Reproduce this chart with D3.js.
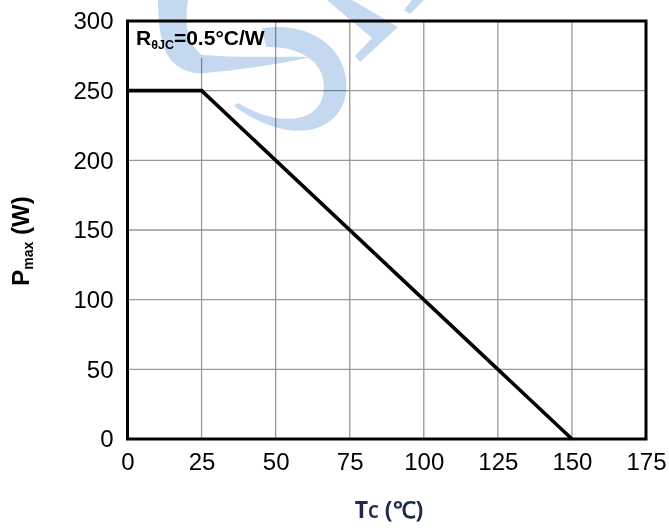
<!DOCTYPE html>
<html>
<head>
<meta charset="utf-8">
<script src="https://cdn.jsdelivr.net/npm/d3@7"></script>
<style>
  body { margin: 0; background: #fff; }
  svg { display: block; }
</style>
</head>
<body>
<div id="chart"></div>
<script>
// derating curve: power vs case temperature
const tempC = [0, 25, 150];
const powerW = [250, 250, 0];
const xTicks = [0, 25, 50, 75, 100, 125, 150, 175];
const yTicks = [0, 50, 100, 150, 200, 250, 300];

const width = 669, height = 528;
const margin = { left: 127.5, top: 21, right: 23, bottom: 89 };

const svg = d3.select("#chart").append("svg")
  .attr("width", width)
  .attr("height", height);

svg.append("rect").attr("width", width).attr("height", height).attr("fill", "#fff");

const x = d3.scaleLinear().domain([0, 175]).range([margin.left, width - margin.right]);
const y = d3.scaleLinear().domain([0, 300]).range([height - margin.bottom, margin.top]);

// grid
const grid = svg.append("g").attr("stroke", "#999").attr("stroke-width", 1.3);
grid.selectAll(".gx").data(xTicks).join("line")
  .attr("x1", d => x(d)).attr("x2", d => x(d))
  .attr("y1", y(0)).attr("y2", y(300));
grid.selectAll(".gy").data(yTicks).join("line")
  .attr("y1", d => y(d)).attr("y2", d => y(d))
  .attr("x1", x(0)).attr("x2", x(175));

// white box behind the annotation hides the grid there
svg.append("rect")
  .attr("x", x(0) + 1).attr("y", y(300) + 1)
  .attr("width", 143).attr("height", 36)
  .attr("fill", "#fff");

// frame
svg.append("rect")
  .attr("x", x(0)).attr("y", y(300))
  .attr("width", x(175) - x(0)).attr("height", y(0) - y(300))
  .attr("fill", "none").attr("stroke", "#000").attr("stroke-width", 3);

const line = d3.line().x((d, i) => x(tempC[i])).y(d => y(d));
svg.append("path")
  .attr("d", line(powerW))
  .attr("fill", "none")
  .attr("stroke", "#000")
  .attr("stroke-width", 3.6)
  .attr("stroke-linejoin", "miter");

// axes (labels only)
const font = "'Liberation Sans', Arial, sans-serif";
const xAxis = svg.append("g")
  .attr("transform", `translate(0,${y(0)})`)
  .call(d3.axisBottom(x).tickValues(xTicks).tickSize(0).tickPadding(14));
const yAxis = svg.append("g")
  .attr("transform", `translate(${x(0)},0)`)
  .call(d3.axisLeft(y).tickValues(yTicks).tickSize(0).tickPadding(14));
[xAxis, yAxis].forEach(a => {
  a.select(".domain").remove();
  a.selectAll("text")
    .attr("font-family", font)
    .attr("font-size", 24)
    .attr("fill", "#000");
});

// annotation
const ann = svg.append("text")
  .attr("x", 136).attr("y", 45)
  .attr("font-family", font)
  .attr("font-weight", "bold")
  .attr("font-size", 21)
  .attr("fill", "#000");
ann.append("tspan").text("R");
ann.append("tspan").attr("font-size", 12.5).attr("dy", 4).text("θJC");
ann.append("tspan").attr("dy", -4).text("=0.5°C/W");

// axis titles
const xt = svg.append("text")
  .attr("x", 389).attr("y", 518)
  .attr("text-anchor", "middle")
  .attr("font-family", "'Open Sans', sans-serif")
  .attr("font-weight", "bold")
  .attr("font-size", 23)
  .attr("fill", "#1d2b4b");
xt.append("tspan").text("T");
xt.append("tspan").attr("font-size", 17).text("C");
xt.append("tspan").text(" (℃)");

const yt = svg.append("text")
  .attr("transform", "translate(29,241) rotate(-90)")
  .attr("text-anchor", "middle")
  .attr("font-family", font)
  .attr("font-weight", "bold")
  .attr("font-size", 24)
  .attr("fill", "#000");
yt.append("tspan").text("P");
yt.append("tspan").attr("font-size", 14).attr("dy", 4).text("max");
yt.append("tspan").attr("dy", -4).text(" (W)");

// faint watermark
const wm = svg.append("g")
  .attr("fill", "#c4d8f0")
  .style("mix-blend-mode", "multiply");
wm.append("path").attr("d",
  "M158,0 L188,0 C184,25 188,45 202,55 C240,58 280,56 312,57 C280,64 240,70 205,73 C183,75 168,62 163,45 C159,30 158,15 158,0 Z");
wm.append("path").attr("d",
  "M262,28 C322,20 354,60 345,98 C337,132 290,147 234,106 L238,103 C280,128 318,122 323,95 C329,66 305,46 266,47 Z");
wm.append("path").attr("d",
  "M327,0 L352,0 L398,27 L360,62 L355,56 L372,38 Z");
wm.append("path").attr("d", "M412,0 L424,0 L410,14 L404,10 Z");
</script>
</body>
</html>
